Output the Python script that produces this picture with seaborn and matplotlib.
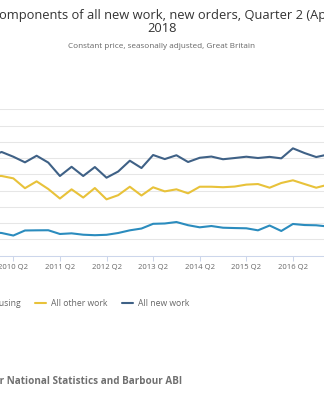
import numpy as np
import pandas as pd
import matplotlib
matplotlib.use("Agg")
import matplotlib.pyplot as plt
from matplotlib.lines import Line2D
import seaborn as sns

# ---- data (constant price £ million) ----
quarters = [
    "2009 Q4",
    "2010 Q1", "2010 Q2", "2010 Q3", "2010 Q4",
    "2011 Q1", "2011 Q2", "2011 Q3", "2011 Q4",
    "2012 Q1", "2012 Q2", "2012 Q3", "2012 Q4",
    "2013 Q1", "2013 Q2", "2013 Q3", "2013 Q4",
    "2014 Q1", "2014 Q2", "2014 Q3", "2014 Q4",
    "2015 Q1", "2015 Q2", "2015 Q3", "2015 Q4",
    "2016 Q1", "2016 Q2", "2016 Q3", "2016 Q4",
    "2017 Q1",
]
all_housing = [
    2910,
    2790, 2480, 3100, 3120,
    3130, 2670, 2750, 2580,
    2520, 2570, 2790, 3120,
    3340, 3920, 3960, 4140,
    3750, 3490, 3650, 3440,
    3400, 3370, 3120, 3710,
    3040, 3900, 3770, 3740,
    3590,
]
all_other_work = [
    9800,
    9800, 9510, 8300, 9140,
    8200, 7030, 8160, 7150,
    8320, 6930, 7440, 8480,
    7400, 8410, 7910, 8160,
    7670, 8480, 8480, 8420,
    8500, 8740, 8810, 8360,
    8940, 9270, 8810, 8360,
    8730,
]
all_new_work = [
    12250,
    12750, 12170, 11480, 12290,
    11450, 9800, 10930, 9800,
    10900, 9590, 10350, 11680,
    10780, 12380, 11880, 12350,
    11520, 12040, 12190, 11860,
    12010, 12170, 12010, 12150,
    11970, 13200, 12620, 12130,
    12440,
]
series_names = ["All housing", "All other work", "All new work"]
series_colors = ["#2b8cbe", "#e8c23a", "#3f6186"]
tick_labels = [q for q in quarters if q.endswith("Q2")]

title_line1 = "Components of all new work, new orders, Quarter 2 (April to June)"
title_line2 = "2018"
subtitle = "Constant price, seasonally adjusted, Great Britain"
source = "Source: Office for National Statistics and Barbour ABI"

# ---- long-form table ----
idx = np.arange(len(quarters))
df = pd.DataFrame({
    "idx": np.concatenate([idx, idx, idx]),
    "value": all_housing + all_other_work + all_new_work,
    "series": np.repeat(series_names, len(quarters)),
})

sns.set_theme(style="white")
plt.rcParams["font.family"] = ["Open Sans", "DejaVu Sans"]

W, H = 324, 400
fig = plt.figure(figsize=(W / 100, H / 100), dpi=100)

# axes geometry (pixels): first index at x=-9.98, 11.65 px per quarter;
# zero line at y=255.7, 18000 at y=109.3
x0_px = -9.98
step = 11.65
n = len(quarters) - 1
y_bottom = 255.7
y_top = 109.3
ax = fig.add_axes([x0_px / W, (H - y_bottom) / H, n * step / W, (y_bottom - y_top) / H])

sns.lineplot(data=df, x="idx", y="value", hue="series", hue_order=series_names,
             palette=series_colors, linewidth=1.5, legend=False, ax=ax)

ax.set_xlim(0, n)
ax.set_ylim(0, 18000)
ax.set_yticks(np.arange(0, 18001, 2000))
ax.yaxis.grid(True, color="#e6e6e6", linewidth=0.75)
ax.xaxis.grid(False)
ax.tick_params(axis="y", left=False, labelleft=False)
tick_pos = [i for i, q in enumerate(quarters) if q.endswith("Q2")]
ax.set_xticks(tick_pos)
ax.set_xticklabels(tick_labels)
ax.tick_params(axis="x", bottom=True, length=3.8, width=0.75, color="#ccd6eb",
               labelsize=5.5, labelcolor="#666666", pad=2.5)
for s in ["top", "left", "right"]:
    ax.spines[s].set_visible(False)
ax.spines["bottom"].set_color("#ccd6eb")
ax.spines["bottom"].set_linewidth(0.75)
ax.set_xlabel("")
ax.set_ylabel("")

# ---- titles ----
fig.text(-9.3 / W, 1 - 15 / H, title_line1, ha="left", va="center",
         fontsize=9.3, color="#333333")
fig.text(162 / W, 1 - 28 / H, title_line2, ha="center", va="center",
         fontsize=9.3, color="#333333")
fig.text(162 / W, 1 - 47 / H, subtitle, ha="center", va="center",
         fontsize=5.9, color="#666666")

# ---- legend ----
handles = [Line2D([], [], color=c, linewidth=1.5) for c in series_colors]
fig.legend(handles, series_names, loc="center left",
           bbox_to_anchor=(-40 / W, 1 - 303.3 / H), ncol=3, frameon=False,
           fontsize=6.2, labelcolor="#666666", handlelength=1.3,
           handletextpad=0.5, columnspacing=1.75, borderaxespad=0, borderpad=0)

# ---- source ----
fig.text(181.7 / W, 1 - 381 / H, source, ha="right", va="center",
         fontsize=7.15, fontweight="bold", color="#707070")

fig.savefig("out.png", dpi=100)
